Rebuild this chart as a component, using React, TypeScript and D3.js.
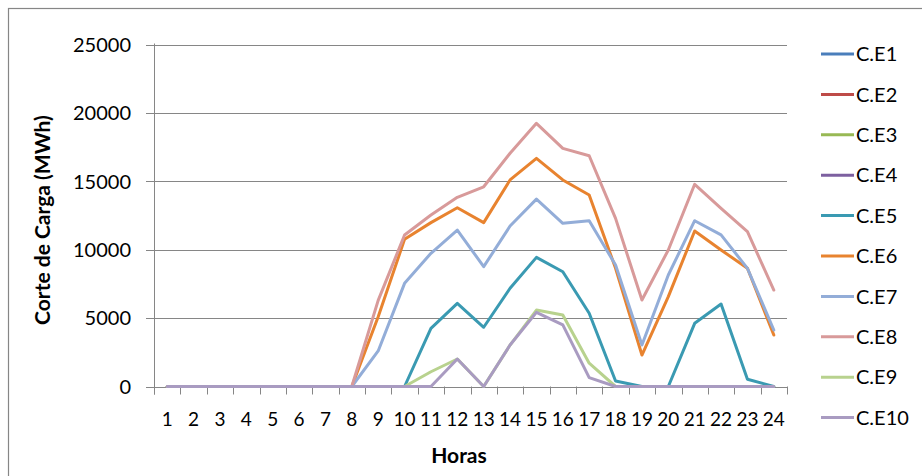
import React from "react";
import * as d3 from "d3";

const hours = [1, 2, 3, 4, 5, 6, 7, 8, 9, 10, 11, 12, 13, 14, 15, 16, 17, 18, 19, 20, 21, 22, 23, 24];
const seriesNames = ["C.E1", "C.E2", "C.E3", "C.E4", "C.E5", "C.E6", "C.E7", "C.E8", "C.E9", "C.E10"];
const seriesColors = ["#4A7EBB", "#BE4B48", "#98B954", "#7D60A0", "#3A9AB2", "#E8832F", "#93ADD8", "#D89A9A", "#B8D28E", "#A99BC1"];

// C.E1–C.E4 show no visible line in the reference (legend entries only)
const ce1: number[] = [];
const ce2: number[] = [];
const ce3: number[] = [];
const ce4: number[] = [];
const ce5 = [0, 0, 0, 0, 0, 0, 0, 0, 0, 0, 4250, 6080, 4330, 7180, 9440, 8390, 5350, 400, 0, 0, 4620, 6030, 530, 0];
const ce6 = [0, 0, 0, 0, 0, 0, 0, 0, 5100, 10760, 11980, 13070, 11980, 15100, 16680, 15100, 14000, 8640, 2300, 6570, 11370, 9980, 8640, 3760];
const ce7 = [0, 0, 0, 0, 0, 0, 0, 0, 2600, 7540, 9740, 11440, 8760, 11730, 13700, 11930, 12120, 8880, 3030, 8150, 12120, 11080, 8640, 4130];
const ce8 = [0, 0, 0, 0, 0, 0, 0, 0, 6300, 11070, 12540, 13830, 14600, 17050, 19240, 17410, 16870, 12290, 6320, 9980, 14780, 13020, 11320, 7050];
const ce9 = [0, 0, 0, 0, 0, 0, 0, 0, 0, 0, 1080, 2010, 0, 3030, 5590, 5230, 1700, 0, 0, 0, 0, 0, 0, 0];
const ce10 = [0, 0, 0, 0, 0, 0, 0, 0, 0, 0, 0, 2010, 0, 3030, 5420, 4500, 650, 0, 0, 0, 0, 0, 0, 0];
const seriesValues = [ce1, ce2, ce3, ce4, ce5, ce6, ce7, ce8, ce9, ce10];

const yTicks = [0, 5000, 10000, 15000, 20000, 25000];
const yTitle = "Corte de Carga (MWh)";
const xTitle = "Horas";

const W = 922;
const H = 476;
const plotL = 154;
const plotR = 787;
const plotT = 44.5;
const plotB = 386.5;
const FONT = "Lato, 'Open Sans', sans-serif";
const AXIS = "#868686";

export default function App() {
  const x = d3.scaleBand<number>().domain(hours).range([plotL, plotR]).paddingInner(0).paddingOuter(0);
  const y = d3.scaleLinear().domain([0, 25000]).range([plotB, plotT]);
  const cx = (h: number) => (x(h) as number) + x.bandwidth() / 2;
  const line = d3
    .line<number>()
    .x((_, i) => cx(hours[i]))
    .y((v) => y(v));

  const tickXs = [...hours.map((h) => x(h) as number), plotR];

  return (
    <svg
      width={W}
      height={H}
      style={{ position: "absolute", left: 0, top: 0, background: "#fff" }}
      fontFamily={FONT}
    >
      <rect x={0} y={0} width={W} height={H} fill="#fff" />
      <rect x={8.5} y={8.5} width={W + 10} height={H + 10} fill="none" stroke={AXIS} strokeWidth={1.2} />

      {yTicks.map((t) => (
        <g key={t}>
          <line x1={plotL - 8} x2={t === 0 ? plotL : plotR} y1={Math.round(y(t)) + 0.5} y2={Math.round(y(t)) + 0.5} stroke={AXIS} strokeWidth={1} />
          <text x={131} y={y(t)} dy="0.36em" textAnchor="end" fontSize={20} fill="#000">
            {t}
          </text>
        </g>
      ))}

      <line x1={plotL + 0.5} x2={plotL + 0.5} y1={plotT - 1} y2={plotB + 8} stroke={AXIS} strokeWidth={1} />
      <line x1={plotL} x2={plotR} y1={Math.round(plotB) + 0.5} y2={Math.round(plotB) + 0.5} stroke={AXIS} strokeWidth={1} />
      {tickXs.map((tx, i) => (
        <line key={i} x1={Math.round(tx) + 0.5} x2={Math.round(tx) + 0.5} y1={plotB} y2={plotB + 8} stroke={AXIS} strokeWidth={1} />
      ))}
      {hours.map((h) => (
        <text key={h} x={cx(h)} y={419} dy="0.36em" textAnchor="middle" fontSize={19} fill="#000">
          {h}
        </text>
      ))}

      {seriesValues.map((vals, i) =>
        vals.length ? (
          <path
            key={seriesNames[i]}
            d={line(vals) as string}
            fill="none"
            stroke={seriesColors[i]}
            strokeWidth={3}
            strokeLinejoin="round"
            strokeLinecap="round"
          />
        ) : null
      )}

      <text x={459} y={455} dy="0.36em" textAnchor="middle" fontSize={21} fontWeight="bold" fill="#000">
        {xTitle}
      </text>
      <text
        transform={`translate(42,220) rotate(-90)`}
        dy="0.36em"
        textAnchor="middle"
        fontSize={21}
        fontWeight="bold"
        fill="#000"
      >
        {yTitle}
      </text>

      {seriesNames.map((n, i) => {
        const ly = 54 + i * 40.4;
        return (
          <g key={n}>
            <line x1={821} x2={854} y1={ly} y2={ly} stroke={seriesColors[i]} strokeWidth={3} />
            <text x={856} y={ly} dy="0.36em" fontSize={20} fill="#000">
              {n}
            </text>
          </g>
        );
      })}
    </svg>
  );
}
